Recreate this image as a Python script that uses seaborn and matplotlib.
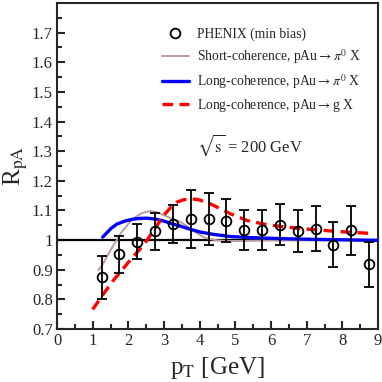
import numpy as np
import pandas as pd
import matplotlib
matplotlib.use("Agg")
import matplotlib.pyplot as plt
from matplotlib.lines import Line2D
import seaborn as sns

# PHENIX data
pt_data = [1.25, 1.75, 2.25, 2.75, 3.25, 3.75, 4.25, 4.75, 5.25, 5.75, 6.25, 6.75, 7.25, 7.75, 8.25, 8.75]
r_data = [0.875, 0.952, 0.995, 1.029, 1.055, 1.072, 1.072, 1.065, 1.035, 1.035, 1.052, 1.030, 1.039, 0.985, 1.033, 0.919]
r_err = [0.073, 0.062, 0.060, 0.062, 0.065, 0.097, 0.087, 0.072, 0.068, 0.068, 0.070, 0.070, 0.075, 0.075, 0.083, 0.076]

# Short-coherence pi0
pt_short = [1.16, 1.3, 1.45, 1.58, 1.8, 2.0, 2.2, 2.4, 2.61, 2.8, 3.0, 3.2, 3.46, 3.7, 3.9, 4.11, 4.3, 4.5, 4.75, 5.0, 5.5, 6.0, 7.0, 8.0, 9.0]
r_short = [0.898, 0.922, 0.955, 0.982, 1.025, 1.055, 1.078, 1.092, 1.098, 1.094, 1.084, 1.073, 1.061, 1.043, 1.025, 1.010, 1.003, 0.999, 0.997, 0.997, 0.998, 0.999, 1.0, 1.0, 1.0]

# Long-coherence pi0
pt_long = [1.28, 1.4, 1.52, 1.68, 1.9, 2.1, 2.3, 2.52, 2.75, 3.0, 3.2, 3.46, 3.75, 4.02, 4.4, 4.86, 5.5, 6.26, 7.0, 8.0, 9.0]
r_long = [1.010, 1.025, 1.040, 1.054, 1.064, 1.070, 1.073, 1.074, 1.071, 1.064, 1.056, 1.047, 1.036, 1.027, 1.019, 1.012, 1.008, 1.005, 1.003, 1.001, 0.999]

# Long-coherence gluon
pt_glue = [1.0, 1.3, 1.58, 1.8, 2.05, 2.3, 2.52, 2.75, 2.99, 3.2, 3.36, 3.55, 3.74, 3.95, 4.2, 4.39, 4.86, 5.33, 5.8, 6.26, 7.2, 8.14, 8.89]
r_glue = [0.766, 0.818, 0.864, 0.896, 0.932, 0.966, 0.999, 1.040, 1.083, 1.112, 1.128, 1.136, 1.139, 1.137, 1.127, 1.117, 1.089, 1.066, 1.054, 1.046, 1.035, 1.027, 1.022]

labels = ["PHENIX (min bias)",
          r"Short-coherence, pAu$\rightarrow\pi^0$ X",
          r"Long-coherence, pAu$\rightarrow\pi^0$ X",
          r"Long-coherence, pAu$\rightarrow$g X"]
colors = ["black", "#bc9c9c", "#0000ff", "#ff0000"]

sns.set_theme(style="ticks")
plt.rcParams["font.family"] = ["Liberation Serif", "DejaVu Serif"]
plt.rcParams["mathtext.fontset"] = "stix"

fig = plt.figure(figsize=(3.82, 3.82), dpi=100)
ax = fig.add_axes([57/382, 53/382, 321/382, 326/382])

ax.axhline(1.0, color="black", lw=1.6, zorder=1)

ax.errorbar(pt_data, r_data, yerr=r_err, fmt="o", mfc="none", mec="black", ecolor="black",
            ms=7, mew=1.3, elinewidth=1.3, capsize=3.3, capthick=1.3, zorder=5)

df_s = pd.DataFrame({"pt": pt_short, "r": r_short})
df_l = pd.DataFrame({"pt": pt_long, "r": r_long})
df_g = pd.DataFrame({"pt": pt_glue, "r": r_glue})

sns.lineplot(data=df_s, x="pt", y="r", ax=ax, color=colors[1], lw=1.4, zorder=3)
sns.lineplot(data=df_l, x="pt", y="r", ax=ax, color=colors[2], lw=2.4, zorder=4)
sns.lineplot(data=df_g, x="pt", y="r", ax=ax, color=colors[3], lw=2.4, dashes=(3.2, 1.9), zorder=4)

ax.set_xlim(0, 9)
ax.set_ylim(0.7, 1.8)
ax.set_xticks(np.arange(0, 10, 1))
ax.set_xticks(np.arange(0.5, 9, 1), minor=True)
ax.set_yticks(np.arange(0.7, 1.75, 0.1))
ax.set_yticks(np.arange(0.75, 1.8, 0.1), minor=True)
ax.set_yticklabels(["0.7", "0.8", "0.9", "1", "1.1", "1.2", "1.3", "1.4", "1.5", "1.6", "1.7"])
ax.set_xticklabels([str(i) for i in range(10)])
ax.tick_params(which="major", direction="in", length=6, width=1.5, labelsize=12, pad=3)
ax.tick_params(which="minor", direction="in", length=3.5, width=1.5)
for s in ax.spines.values():
    s.set_linewidth(1.5)
    s.set_visible(True)

ax.set_xlabel(r"p$_{\rm T}$ [GeV]", fontsize=18, labelpad=4)
ax.set_ylabel(r"R$_{\rm pA}$", fontsize=18)
ax.yaxis.set_label_coords(-0.085, 0.5)

ax.text(3.93, 1.319, r"$\sqrt{\rm s}$ = 200 GeV", fontsize=12, va="center", ha="left")

handles = [
    Line2D([], [], ls="none", marker="o", mfc="none", mec="black", ms=7, mew=1.3),
    Line2D([], [], color=colors[1], lw=1.4),
    Line2D([], [], color=colors[2], lw=2.4),
    Line2D([], [], color=colors[3], lw=2.4, dashes=(3.2, 1.9)),
]
leg = ax.legend(handles, labels, loc="upper left", bbox_to_anchor=(0.326, 0.925), frameon=False,
                fontsize=9.8, handlelength=2.0, handletextpad=0.6, labelspacing=0.45, borderaxespad=0,
                borderpad=0)

fig.savefig("out.png", dpi=100)
